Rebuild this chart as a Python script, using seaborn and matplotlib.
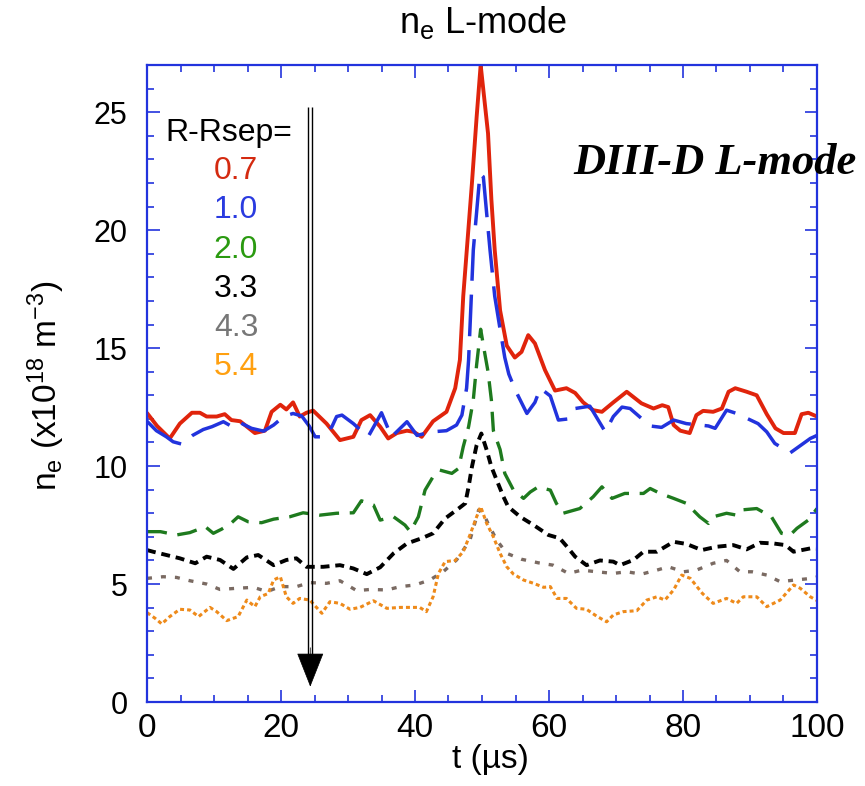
import numpy as np
import pandas as pd
import matplotlib
matplotlib.use("Agg")
import matplotlib.pyplot as plt
from matplotlib.ticker import MultipleLocator
import seaborn as sns

# Edge density traces n_e(t) at several distances outside the separatrix (cm)
RED = [(0, 12.25), (1.5, 11.7), (3.4, 11.17), (4.9, 11.8), (6.7, 12.26), (7.9, 12.26),
       (8.9, 12.1), (10.4, 12.1), (11.6, 12.2), (12.6, 11.95), (13.9, 11.9), (16.1, 11.4),
       (17.6, 11.5), (18.6, 12.3), (19.9, 12.6), (20.8, 12.4), (21.8, 12.7), (22.8, 12.1),
       (23.8, 12.26), (24.8, 12.35), (26.8, 11.8), (28.8, 11.1), (30.8, 11.24), (32.0, 11.95),
       (33.3, 12.16), (34.8, 11.67), (36.0, 11.17), (37.3, 11.4), (38.8, 11.5), (39.8, 11.45),
       (41.0, 11.24), (42.7, 11.9), (44.7, 12.3), (46.0, 13.3), (46.7, 14.5), (47.2, 17.2),
       (48.5, 22.0), (49.2, 24.8), (49.8, 27.0), (50.9, 24.1), (51.4, 21.3), (51.9, 19.15),
       (52.7, 16.6), (53.7, 15.1), (54.9, 14.6), (55.9, 14.84), (56.9, 15.55), (57.9, 15.2),
       (59.4, 14.07), (60.9, 13.2), (62.6, 13.3), (63.9, 13.1), (65.1, 12.7), (66.6, 12.37),
       (67.9, 12.3), (69.6, 12.7), (71.6, 13.15), (73.8, 12.66), (75.6, 12.44), (76.9, 12.58),
       (77.8, 12.5), (78.6, 11.74), (79.6, 11.5), (81.0, 11.4), (82.0, 12.16), (83.0, 12.34),
       (84.5, 12.3), (85.8, 12.44), (86.8, 13.15), (87.8, 13.3), (89.5, 13.15), (91.0, 13.0),
       (92.5, 12.2), (93.8, 11.6), (95.0, 11.4), (96.7, 11.4), (97.7, 12.2), (98.7, 12.26),
       (100, 12.1)]

BLUE = [(0, 11.9), (1.4, 11.5), (2.9, 11.24), (3.9, 11.03), (5.2, 10.93), (6.8, 11.3),
        (8.4, 11.55), (9.7, 11.67), (11.4, 11.88), (12.9, 11.64), (13.9, 11.84), (15.6, 11.6),
        (17.4, 11.48), (18.9, 11.74), (20.4, 12.1), (21.8, 12.23), (23.1, 12.12), (24.2, 11.7),
        (25.1, 11.24), (26.3, 11.24), (27.6, 11.67), (28.3, 12.1), (29.1, 12.16), (30.8, 11.8),
        (33.0, 11.24), (35.0, 12.26), (36.5, 11.24), (38.8, 11.88), (40.3, 11.3), (42.5, 11.45),
        (44.7, 11.5), (46.2, 11.74), (47.0, 12.16), (47.7, 13.3), (48.0, 14.5), (48.7, 19.15),
        (49.7, 22.4), (50.2, 22.26), (50.7, 20.7), (51.2, 19.15), (51.9, 17.2), (52.7, 15.8),
        (53.4, 14.6), (54.0, 13.9), (55.0, 13.2), (56.7, 12.23), (57.9, 12.7), (58.7, 13.3),
        (60.2, 12.97), (61.4, 11.95), (62.9, 12.0), (63.9, 12.44), (66.1, 12.54), (68.4, 11.45),
        (69.6, 12.1), (70.9, 12.5), (72.1, 12.44), (75.1, 11.7), (76.8, 11.64), (78.6, 11.95),
        (80.5, 11.8), (83.8, 11.7), (84.8, 11.6), (86.5, 12.37), (88.0, 12.23), (91.2, 11.8),
        (92.5, 11.45), (93.7, 10.96), (96.0, 10.56), (99.0, 11.17), (100, 11.3)]

GREEN = [(0, 7.22), (2.0, 7.22), (4.4, 7.08), (6.4, 7.18), (8.7, 7.43), (9.9, 7.15),
         (11.1, 7.32), (12.4, 7.54), (13.6, 7.85), (15.1, 7.64), (17.1, 7.6), (18.9, 7.75),
         (21.3, 7.85), (23.3, 8.02), (25.8, 7.92), (28.3, 8.0), (30.8, 8.02), (32.0, 8.53),
         (33.8, 8.35), (34.8, 7.71), (36.8, 7.85), (38.5, 7.5), (39.3, 7.22), (40.5, 7.85),
         (41.5, 8.98), (42.7, 9.55), (43.7, 9.83), (45.5, 9.69), (46.5, 9.9), (47.2, 10.82),
         (48.0, 11.67), (48.7, 12.8), (49.2, 14.3), (49.8, 15.8), (50.4, 14.8), (50.9, 14.0),
         (51.4, 12.8), (51.7, 11.5), (52.7, 10.7), (53.4, 9.69), (54.7, 8.98), (56.2, 8.63),
         (57.2, 8.9), (58.4, 9.12), (60.2, 8.98), (61.1, 8.42), (62.1, 8.0), (64.6, 8.2),
         (66.6, 8.7), (67.9, 9.12), (69.4, 8.63), (71.3, 8.84), (74.1, 8.84), (75.1, 9.05),
         (76.6, 8.84), (78.6, 8.63), (80.5, 8.42), (82.5, 7.85), (83.8, 7.57), (84.5, 7.85),
         (86.5, 8.0), (88.0, 7.92), (88.7, 8.14), (91.0, 8.2), (93.2, 7.85), (94.7, 7.15),
         (96.0, 7.08), (97.0, 7.36), (98.7, 7.71), (100, 8.2)]

BLACK = [(0, 6.44), (0.9, 6.37), (2.9, 6.23), (4.9, 6.09), (7.2, 5.88), (8.9, 6.16),
         (10.9, 6.02), (12.9, 5.64), (14.9, 6.13), (16.6, 6.23), (18.9, 5.8), (20.8, 6.02),
         (22.3, 6.09), (23.8, 5.73), (26.3, 5.73), (28.8, 5.8), (30.8, 5.66), (32.8, 5.42),
         (34.8, 5.71), (36.8, 6.3), (38.8, 6.72), (41.0, 6.94), (42.7, 7.15), (44.5, 7.78),
         (46.5, 8.2), (47.5, 8.42), (48.0, 9.12), (48.5, 9.97), (49.2, 10.89), (49.9, 11.38),
         (50.7, 10.68), (51.4, 9.97), (52.2, 9.4), (53.2, 8.7), (53.9, 8.28), (55.7, 7.85),
         (57.7, 7.5), (59.9, 7.08), (61.6, 6.94), (62.7, 6.58), (63.9, 6.16), (65.6, 5.8),
         (67.6, 6.0), (69.6, 5.95), (70.6, 5.8), (72.6, 6.02), (74.1, 6.37), (76.1, 6.37),
         (78.6, 6.79), (80.5, 6.7), (82.8, 6.44), (85.0, 6.58), (87.5, 6.65), (89.5, 6.47),
         (91.5, 6.75), (93.5, 6.72), (95.3, 6.65), (96.5, 6.37), (99.0, 6.51), (100, 6.5)]

GRAY = [(0, 5.24), (2.4, 5.31), (4.4, 5.28), (6.4, 5.14), (8.9, 5.0), (10.9, 4.77),
        (13.4, 4.82), (15.9, 4.86), (17.9, 4.68), (19.9, 4.89), (22.3, 4.89), (24.3, 5.06),
        (26.8, 5.03), (28.8, 5.14), (31.3, 4.72), (33.3, 4.77), (35.8, 4.75), (37.8, 4.89),
        (40.0, 4.96), (42.2, 5.17), (44.2, 5.52), (46.2, 6.02), (48.2, 6.86), (49.5, 8.14),
        (50.2, 8.0), (50.9, 7.57), (52.2, 6.86), (53.7, 6.3), (55.9, 6.05), (58.4, 5.9),
        (60.6, 5.8), (62.9, 5.45), (64.9, 5.59), (67.1, 5.52), (69.6, 5.45), (71.6, 5.52),
        (73.8, 5.42), (76.1, 5.59), (77.8, 5.73), (80.1, 5.52), (82.0, 5.59), (84.5, 5.88),
        (86.5, 6.0), (88.5, 5.52), (90.3, 5.52), (92.5, 5.38), (94.5, 5.1), (96.7, 5.17),
        (99.2, 5.24), (100, 5.3)]

ORANGE = [(0, 3.79), (1.2, 3.55), (2.2, 3.31), (3.4, 3.62), (4.9, 3.93), (6.4, 3.9),
          (7.7, 3.62), (9.4, 4.01), (10.4, 3.83), (11.9, 3.45), (13.6, 3.62), (14.9, 4.32),
          (16.1, 4.04), (16.9, 4.46), (18.1, 4.6), (18.9, 5.17), (19.9, 5.31), (20.8, 4.46),
          (21.8, 4.18), (22.8, 4.39), (24.3, 4.32), (26.1, 3.76), (27.3, 4.25), (28.8, 4.18),
          (30.3, 3.93), (31.8, 4.01), (33.8, 4.29), (35.8, 3.97), (37.8, 4.01), (39.3, 4.01),
          (40.7, 4.01), (41.7, 3.83), (42.7, 4.46), (43.5, 5.45), (44.5, 5.95), (46.0, 6.0),
          (47.2, 6.37), (48.2, 7.08), (49.2, 7.85), (49.8, 8.28), (50.7, 7.57), (51.7, 7.0),
          (52.7, 6.3), (53.7, 5.73), (54.7, 5.42), (56.2, 5.17), (57.7, 5.03), (59.2, 4.86),
          (60.2, 4.89), (61.2, 4.39), (62.6, 4.39), (64.1, 3.97), (65.6, 3.93), (67.1, 3.64),
          (68.6, 3.4), (69.6, 3.69), (71.1, 3.83), (73.1, 3.87), (74.6, 4.32), (76.1, 4.46),
          (77.3, 4.32), (78.6, 4.75), (79.8, 5.38), (81.1, 5.24), (82.9, 4.6), (84.5, 4.18),
          (86.5, 4.39), (88.0, 4.18), (89.0, 4.46), (91.0, 4.46), (92.5, 4.04), (94.5, 4.32),
          (96.5, 4.96), (97.5, 4.82), (99.0, 4.46), (100, 4.3)]

RSEP_LABELS = ["0.7", "1.0", "2.0", "3.3", "4.3", "5.4"]
SERIES = [RED, BLUE, GREEN, BLACK, GRAY, ORANGE]
LINE_COLORS = ["#E0240C", "#2233DD", "#1E7A1E", "#000000", "#7A6A62", "#EE8A1A"]
TEXT_COLORS = ["#D42A10", "#2A3BE0", "#2A9A10", "#000000", "#777777", "#FFA010"]
LINE_WIDTHS = [2.8, 2.5, 2.4, 2.8, 2.4, 2.2]
LINE_STYLES = ["-", (0, (12, 4)), (0, (6, 3.2)), (0, (2.3, 1.5)), (0, (1.5, 2.7)), (0, (1.3, 1.0))]

sns.set_style("white")
plt.rcParams["font.family"] = ["Liberation Sans", "DejaVu Sans"]
plt.rcParams["mathtext.fontset"] = "custom"
plt.rcParams["mathtext.rm"] = "Liberation Sans"
plt.rcParams["mathtext.it"] = "Liberation Sans:italic"
plt.rcParams["mathtext.bf"] = "Liberation Sans:bold"
plt.rcParams["text.color"] = "black"
plt.rcParams["axes.labelcolor"] = "black"

frames = []
for lab, pts in zip(RSEP_LABELS, SERIES):
    arr = np.asarray(pts, dtype=float)
    frames.append(pd.DataFrame({"t": arr[:, 0], "ne": arr[:, 1], "rsep": lab}))
df = pd.concat(frames, ignore_index=True)

W, H = 865, 786
fig = plt.figure(figsize=(W / 100, H / 100), dpi=100)
ax_l, ax_r, ax_t, ax_b = 147, 817, 65, 702
ax = fig.add_axes([ax_l / W, 1 - ax_b / H, (ax_r - ax_l) / W, (ax_b - ax_t) / H])

for lab, col, lw, ls in zip(RSEP_LABELS, LINE_COLORS, LINE_WIDTHS, LINE_STYLES):
    sub = df[df["rsep"] == lab]
    sns.lineplot(data=sub, x="t", y="ne", ax=ax, color=col, linewidth=lw,
                 estimator=None, sort=False, legend=False)
    ax.lines[-1].set_linestyle(ls)
    ax.lines[-1].set_dash_capstyle("butt")

ax.set_xlim(0, 100)
ax.set_ylim(0, 27)

axis_blue = "#2233DD"
for sp in ax.spines.values():
    sp.set_color(axis_blue)
    sp.set_linewidth(1.6)
    sp.set_visible(True)

ax.xaxis.set_major_locator(MultipleLocator(20))
ax.xaxis.set_minor_locator(MultipleLocator(5))
ax.yaxis.set_major_locator(MultipleLocator(5))
ax.yaxis.set_minor_locator(MultipleLocator(1))
ax.tick_params(which="both", direction="in", color=axis_blue, labelcolor="black",
               top=True, right=True, bottom=True, left=True, width=1.2)
ax.tick_params(which="major", length=9)
ax.tick_params(which="minor", length=5)
ax.tick_params(axis="x", which="major", labelsize=24, pad=8)
ax.tick_params(axis="y", which="major", labelsize=22, pad=14)

ax.set_xlabel("t (\u00b5s)", fontsize=24, color="black")
ax.xaxis.set_label_coords(0.512, -0.066)
ax.set_ylabel(r"n$_\mathregular{e}$ (x10$^\mathregular{18}$ m$^\mathregular{-3}$)",
              fontsize=24, color="black")
ax.yaxis.set_label_coords((46 - ax_l) / (ax_r - ax_l), (ax_b - 386) / (ax_b - ax_t))
ax.yaxis.label.set_va("center")

fig.text(483 / W, 1 - 33 / H, r"n$_\mathregular{e}$ L-mode", ha="center", va="baseline",
         fontsize=26, color="black")

# Legend block: header and the radial positions in their line colours
ax.text(0.027, 0.881, "R-Rsep=", transform=ax.transAxes, fontsize=23,
        ha="left", va="baseline", color="black")
for i, (lab, tc) in enumerate(zip(RSEP_LABELS, TEXT_COLORS)):
    ax.text(0.166, 0.8206 - i * 0.0614, lab, transform=ax.transAxes, fontsize=23,
            color=tc, ha="right", va="baseline")

ax.text(0.636, 0.829, "DIII-D L-mode", transform=ax.transAxes, fontsize=32,
        family="Liberation Serif", fontweight="bold", fontstyle="italic",
        ha="left", va="baseline", clip_on=False, color="black")

# Double-shafted arrow pointing outward in R-Rsep
x_arr = 24.37
for dx in (-0.3, 0.3):
    ax.plot([x_arr + dx, x_arr + dx], [25.2, 1.6], color="black", lw=1.0,
            solid_capstyle="butt")
ax.annotate("", xy=(x_arr, 0.65), xytext=(x_arr, 2.3),
            arrowprops=dict(arrowstyle="-|>,head_length=1.14,head_width=0.45",
                            mutation_scale=20, color="black", lw=0.5,
                            shrinkA=0, shrinkB=0))

fig.savefig("out.png", dpi=100)
